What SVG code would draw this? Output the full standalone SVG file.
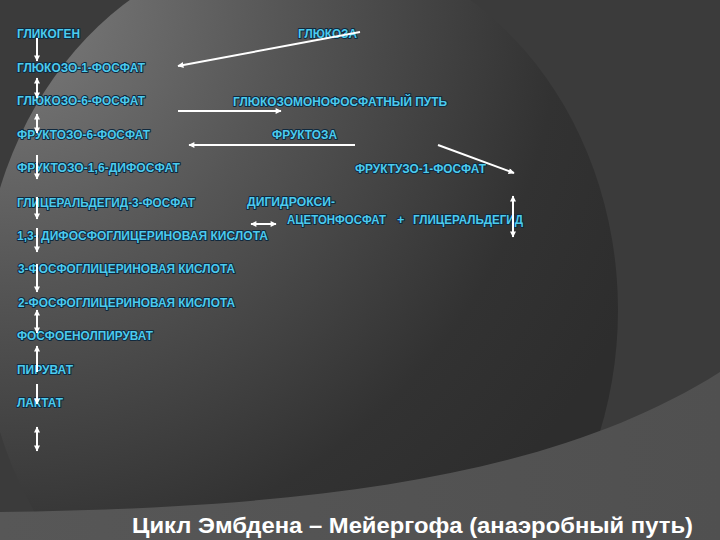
<svg xmlns="http://www.w3.org/2000/svg" width="720" height="540" viewBox="0 0 720 540">
  <defs>
    <radialGradient id="bgGrad" gradientUnits="userSpaceOnUse" cx="0" cy="0" r="700">
      <stop offset="0" stop-color="#7e7e7e"/>
      <stop offset="0.4" stop-color="#565656"/>
      <stop offset="0.8" stop-color="#323232"/>
      <stop offset="1" stop-color="#2d2d2d"/>
    </radialGradient>
    <linearGradient id="bandGrad" x1="0" y1="0" x2="1" y2="0">
      <stop offset="0" stop-color="#575757"/>
      <stop offset="1" stop-color="#505050"/>
    </linearGradient>
    <marker id="ah" viewBox="0 0 10 10" refX="9" refY="5" markerWidth="7" markerHeight="6" markerUnits="userSpaceOnUse" orient="auto-start-reverse">
      <path d="M0,0 L10,5 L0,10 Z" fill="#ffffff"/>
    </marker>
    <style>
      .t { font-family: "Liberation Sans", Arial, sans-serif; font-weight: bold; font-size: 12.5px; fill: #4ccbee; stroke: #10293e; stroke-width: 2; paint-order: stroke; stroke-linejoin: round; }
      .title { font-family: "Liberation Sans", Arial, sans-serif; font-weight: bold; font-size: 22px; fill: #ffffff; }
      .c { stroke: #ffffff; stroke-width: 2; fill: none; }
      .e { marker-end: url(#ah); }
      .s { marker-start: url(#ah); }
      .b { marker-start: url(#ah); marker-end: url(#ah); }
    </style>
  </defs>

  <!-- background -->
  <rect x="0" y="0" width="720" height="540" fill="#3b3b3b"/>
  <ellipse cx="300" cy="310" rx="318" ry="367" fill="url(#bgGrad)"/>
  <path d="M0,512 C300,508 550,480 720,372 L720,540 L0,540 Z" fill="url(#bandGrad)"/>

  <!-- nodes -->
  <g id="glikogen"><text class="t" x="17" y="38" textLength="63" lengthAdjust="spacingAndGlyphs">ГЛИКОГЕН</text></g>
  <g id="glukoza"><text class="t" x="298" y="38" textLength="59" lengthAdjust="spacingAndGlyphs">ГЛЮКОЗА</text></g>
  <g id="g1f"><text class="t" x="17" y="72" textLength="128" lengthAdjust="spacingAndGlyphs">ГЛЮКОЗО-1-ФОСФАТ</text></g>
  <g id="g6f"><text class="t" x="17" y="105" textLength="128" lengthAdjust="spacingAndGlyphs">ГЛЮКОЗО-6-ФОСФАТ</text></g>
  <g id="gmf"><text class="t" x="233" y="106" textLength="214" lengthAdjust="spacingAndGlyphs">ГЛЮКОЗОМОНОФОСФАТНЫЙ ПУТЬ</text></g>
  <g id="f6f"><text class="t" x="17" y="139" textLength="133" lengthAdjust="spacingAndGlyphs">ФРУКТОЗО-6-ФОСФАТ</text></g>
  <g id="fruktoza"><text class="t" x="272" y="139" textLength="65" lengthAdjust="spacingAndGlyphs">ФРУКТОЗА</text></g>
  <g id="f16df"><text class="t" x="17" y="172" textLength="163" lengthAdjust="spacingAndGlyphs">ФРУКТОЗО-1,6-ДИФОСФАТ</text></g>
  <g id="f1f"><text class="t" x="355" y="173" textLength="131" lengthAdjust="spacingAndGlyphs">ФРУКТУЗО-1-ФОСФАТ</text></g>
  <g id="ga3f"><text class="t" x="17" y="207" textLength="178" lengthAdjust="spacingAndGlyphs">ГЛИЦЕРАЛЬДЕГИД-3-ФОСФАТ</text></g>
  <g id="dgaf">
    <text class="t" x="247" y="206" textLength="88" lengthAdjust="spacingAndGlyphs">ДИГИДРОКСИ-</text>
    <text class="t" x="287" y="224" textLength="99" lengthAdjust="spacingAndGlyphs">АЦЕТОНФОСФАТ</text>
    <text class="t" x="397" y="224">+</text>
    <text class="t" x="413" y="224" textLength="110" lengthAdjust="spacingAndGlyphs">ГЛИЦЕРАЛЬДЕГИД</text>
  </g>
  <g id="dfgk"><text class="t" x="17" y="240" textLength="251" lengthAdjust="spacingAndGlyphs">1,3- ДИФОСФОГЛИЦЕРИНОВАЯ КИСЛОТА</text></g>
  <g id="f3gk"><text class="t" x="18" y="273" textLength="217" lengthAdjust="spacingAndGlyphs">3-ФОСФОГЛИЦЕРИНОВАЯ КИСЛОТА</text></g>
  <g id="f2gk"><text class="t" x="18" y="307" textLength="217" lengthAdjust="spacingAndGlyphs">2-ФОСФОГЛИЦЕРИНОВАЯ КИСЛОТА</text></g>
  <g id="fep"><text class="t" x="17" y="340" textLength="136" lengthAdjust="spacingAndGlyphs">ФОСФОЕНОЛПИРУВАТ</text></g>
  <g id="piruvat"><text class="t" x="17" y="374" textLength="56" lengthAdjust="spacingAndGlyphs">ПИРУВАТ</text></g>
  <g id="laktat"><text class="t" x="17" y="407" textLength="46" lengthAdjust="spacingAndGlyphs">ЛАКТАТ</text></g>

  <g id="title"><text class="title" x="132" y="533" textLength="561" lengthAdjust="spacingAndGlyphs">Цикл Эмбдена – Мейергофа (анаэробный путь)</text></g>

  <!-- connectors -->
  <g id="connectors">
    <line class="c e" x1="37" y1="38" x2="37" y2="61"/>
    <line class="c b" x1="37" y1="78" x2="37" y2="98"/>
    <line class="c b" x1="37" y1="114" x2="37" y2="133"/>
    <line class="c e" x1="37" y1="155" x2="37" y2="179"/>
    <line class="c e" x1="37" y1="197" x2="37" y2="219"/>
    <line class="c e" x1="37" y1="228" x2="37" y2="252"/>
    <line class="c e" x1="37" y1="264" x2="37" y2="292"/>
    <line class="c b" x1="37" y1="310" x2="37" y2="333"/>
    <line class="c s" x1="37" y1="346" x2="37" y2="372"/>
    <line class="c e" x1="37" y1="384" x2="37" y2="404"/>
    <line class="c b" x1="37" y1="427" x2="37" y2="451"/>
    <line class="c e" x1="360" y1="32" x2="178" y2="66"/>
    <line class="c e" x1="178" y1="111" x2="281" y2="111"/>
    <line class="c e" x1="355" y1="145" x2="189" y2="145"/>
    <line class="c e" x1="438" y1="145" x2="514" y2="173"/>
    <line class="c b" x1="513" y1="196" x2="513" y2="237"/>
    <line class="c b" x1="251" y1="224" x2="276" y2="224"/>
  </g>
</svg>
